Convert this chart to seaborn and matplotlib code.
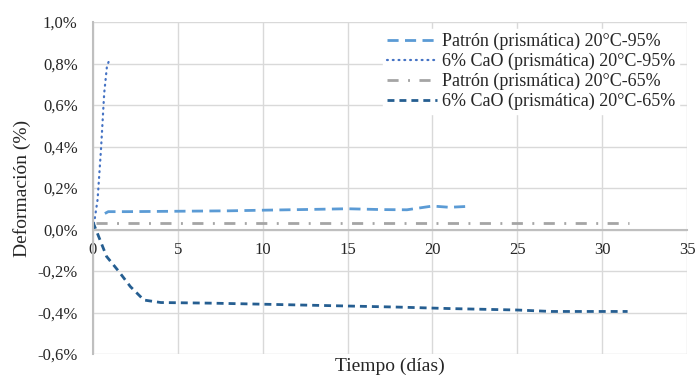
import matplotlib
matplotlib.use("Agg")
import matplotlib.pyplot as plt
import seaborn as sns
import pandas as pd
from matplotlib.ticker import FuncFormatter, MultipleLocator

# Data (days, deformation %)
patron95_x = [0.7, 0.9, 2, 5, 8, 10, 13, 15, 17, 18.5, 20, 21, 22]
patron95_y = [0.077, 0.086, 0.086, 0.088, 0.090, 0.093, 0.097, 0.100, 0.096, 0.095, 0.113, 0.107, 0.111]

cao95_x = [0.0, 0.1, 0.27, 0.47, 0.66, 0.82, 0.95]
cao95_y = [0.0, 0.05, 0.144, 0.385, 0.657, 0.785, 0.815]

patron65_x = [0.2, 5, 10, 15, 20, 25, 31.6]
patron65_y = [0.032, 0.032, 0.032, 0.032, 0.032, 0.032, 0.032]

cao65_x = [0.0, 0.8, 1.5, 2.2, 3.0, 4.0, 7, 10, 14, 18, 21, 25, 27, 30, 31.5]
cao65_y = [0.035, -0.13, -0.2, -0.275, -0.34, -0.352, -0.355, -0.36, -0.367, -0.374, -0.381, -0.388, -0.395, -0.395, -0.395]

labels = ["Patrón (prismática) 20°C-95%", "6% CaO (prismática) 20°C-95%",
          "Patrón (prismática) 20°C-65%", "6% CaO (prismática) 20°C-65%"]
x_ticks = [0, 5, 10, 15, 20, 25, 30, 35]

sns.set_theme(style="white")
plt.rcParams['font.family'] = ['Liberation Serif', 'DejaVu Serif']

fig = plt.figure(figsize=(6.96, 3.76), dpi=100)
AX_L, AX_R, AX_T, AX_B = 93, 687, 22, 354
ax = fig.add_axes([AX_L/696, 1-AX_B/376, (AX_R-AX_L)/696, (AX_B-AX_T)/376])

series = [
    (patron95_x, patron95_y, "#5B9BD5", (0, (4.0, 2.3)), 'butt', 2.0),
    (cao95_x, cao95_y, "#4472C4", (0, (0.4, 2.2)), 'round', 1.6),
    (patron65_x, patron65_y, "#A5A5A5", (0, (4.0, 3.4, 0.7, 3.4)), 'butt', 2.0),
    (cao65_x, cao65_y, "#255E91", (0, (2.5, 1.8)), 'butt', 2.0),
]
for (xs, ys, col, ls, cap, lw), lab in zip(series, labels):
    df = pd.DataFrame({"t": xs, "d": ys})
    sns.lineplot(data=df, x="t", y="d", ax=ax, color=col, linestyle=ls,
                 linewidth=lw, label=lab, sort=False, estimator=None,
                 dash_capstyle=cap)

ax.set_xlim(0, 35)
ax.set_ylim(-0.6, 1.0)
ax.set_xticks(x_ticks)
ax.yaxis.set_major_locator(MultipleLocator(0.2))
ax.yaxis.set_major_formatter(FuncFormatter(lambda v, p: f"{v:.1f}%".replace(".", ",")))
ax.grid(True, color="#D9D9D9", linewidth=1.0)
ax.set_axisbelow(True)
for s in ["top", "right"]:
    ax.spines[s].set_visible(False)
ax.spines["bottom"].set_position(("data", 0))
ax.spines["bottom"].set_color("#BFBFBF")
ax.spines["bottom"].set_linewidth(1.5)
ax.spines["left"].set_color("#BFBFBF")
ax.spines["left"].set_linewidth(1.5)
ax.tick_params(axis="both", length=0, labelsize=12, colors="#262626")
ax.tick_params(axis="x", pad=9)
ax.tick_params(axis="y", pad=11)

ax.set_xlabel("Tiempo (días)", fontsize=14, color="#262626")
ax.xaxis.set_label_coords(0.5, -0.01)
ax.set_ylabel("Deformación (%)", fontsize=14, color="#262626")
ax.yaxis.set_label_coords((31 - AX_L) / (AX_R - AX_L), 0.5)

leg = ax.legend(loc="upper left", bbox_to_anchor=(383/696, 1-29/376),
                bbox_transform=fig.transFigure, frameon=True, fontsize=13,
                handlelength=2.77, handletextpad=0.28, labelspacing=0.15,
                borderpad=0.2, borderaxespad=0)
leg.get_frame().set_facecolor("white")
leg.get_frame().set_edgecolor("white")
leg.get_frame().set_alpha(1.0)
for t in leg.get_texts():
    t.set_color("#262626")

fig.savefig("out.png", dpi=100)
